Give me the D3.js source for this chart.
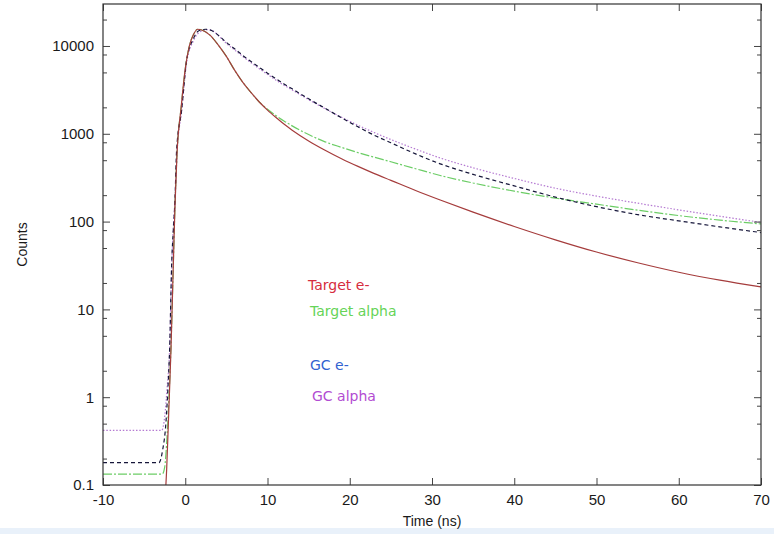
<!DOCTYPE html>
<html>
<head>
<meta charset="utf-8">
<script src="https://cdn.jsdelivr.net/npm/d3@7"></script>
<style>
  body { margin: 0; background: #ffffff; }
  .tick text { font-family: "Liberation Sans", Arial, sans-serif; font-size: 15px; fill: #1a1a1a; }
  .legend { font-family: "DejaVu Sans", sans-serif; font-size: 14px; }
</style>
</head>
<body>
<div id="chart"></div>
<script>
// values (time in ns, counts)
var timeRed = [-2.45, -2.26, -2.0, -1.74, -1.5, -1.25, -1.0, -0.5, 0, 0.5, 1.0, 1.5, 2, 3, 4, 5, 6, 7, 8, 9, 10, 11, 12, 13, 15, 17, 19, 21, 23, 25, 28, 31, 35, 40, 45, 50, 55, 60, 65, 70];
var countsRed = [0.07, 0.15, 0.7, 3.4, 22, 150, 600, 2000, 5500, 10000, 13500, 15500, 15200, 13300, 10300, 7600, 5300, 3850, 2950, 2300, 1860, 1540, 1290, 1100, 830, 650, 520, 425, 352, 295, 226, 176, 128, 88, 62, 45, 34, 26.5, 21.5, 18];

var timeGreen = [-10, -2.8, -2.5, -2.26, -2.0, -1.74, -1.5, -1.25, -1.0, -0.5, 0, 0.5, 1.0, 1.5, 2, 3, 4, 5, 6, 7, 8, 9, 10, 11, 12, 13, 15, 17, 19, 21, 23, 25, 28, 31, 35, 40, 45, 50, 55, 60, 65, 70];
var countsGreen = [0.133, 0.133, 0.16, 0.3, 0.9, 3.6, 22, 150, 600, 2000, 5500, 10000, 13500, 15500, 15200, 13300, 10300, 7600, 5300, 3850, 2950, 2300, 1900, 1620, 1400, 1230, 980, 810, 700, 610, 540, 480, 400, 335, 275, 222, 185, 158, 135, 117, 104, 94];

var timeBlack = [-10, -3.2, -2.75, -2.35, -2.1, -1.9, -1.65, -1.45, -1.25, -1.05, -0.44, 0.17, 0.97, 1.6, 2.5, 3.2, 4, 5, 6, 7, 8, 9, 10, 11, 12, 13, 15, 17, 19, 21, 23, 25, 28, 31, 35, 40, 45, 50, 55, 60, 65, 70];
var countsBlack = [0.18, 0.18, 0.25, 0.51, 1.3, 3.45, 33, 80, 176, 650, 1870, 6900, 12000, 14800, 15500, 15000, 13300, 11000, 9300, 7800, 6650, 5700, 4900, 4250, 3700, 3250, 2500, 1950, 1520, 1200, 960, 790, 590, 455, 345, 255, 190, 148, 120, 102, 87, 75];

var timePurple = [-10, -2.85, -2.5, -2.2, -1.9, -1.65, -1.45, -1.25, -1.0, -0.44, 0.17, 1.0, 2.0, 2.7, 3.4, 4, 5, 6, 7, 8, 9, 10, 11, 12, 13, 15, 17, 19, 21, 23, 25, 28, 31, 35, 40, 45, 50, 55, 60, 65, 70];
var countsPurple = [0.42, 0.42, 0.6, 1.3, 3.6, 30, 85, 170, 600, 1800, 6500, 11500, 14800, 15300, 14800, 13200, 10700, 9000, 7600, 6450, 5500, 4750, 4100, 3580, 3150, 2450, 1930, 1540, 1250, 1030, 860, 670, 530, 410, 310, 240, 195, 162, 136, 115, 98];

var xTicks = [-10, 0, 10, 20, 30, 40, 50, 60, 70];
var yTicks = [0.1, 1, 10, 100, 1000, 10000];
var yMinor = [0.2, 0.5, 0.8, 2, 5, 8, 20, 50, 80, 200, 500, 800, 2000, 5000, 8000, 20000];

var legendNames = ["Target e-", "Target alpha", "GC e-", "GC alpha"];

var width = 774,
    height = 534;
var plotLeft = 103, plotRight = 761, plotTop = 4, plotBottom = 485;

var svg = d3.select("#chart").append("svg")
  .attr("width", width)
  .attr("height", height)
  .style("display", "block");

var x = d3.scaleLinear().domain([-10, 70]).range([plotLeft, plotRight]);
var y = d3.scaleLog().domain([0.1, 30070]).range([plotBottom, plotTop]);

svg.append("defs").append("clipPath").attr("id", "plotclip")
  .append("rect")
  .attr("x", plotLeft).attr("y", plotTop)
  .attr("width", plotRight - plotLeft).attr("height", plotBottom - plotTop);

// light band at the bottom of the picture
svg.append("rect")
  .attr("x", 0).attr("y", 528)
  .attr("width", width).attr("height", 6)
  .style("fill", "#e9f1fa");

var line = d3.line()
  .x(function(d) { return x(d[0]); })
  .y(function(d) { return y(d[1]); })
  .curve(d3.curveMonotoneX);

var series = [
  { t: timePurple, c: countsPurple, color: "#b57ad2", dash: "1.5,1.8" },
  { t: timeGreen, c: countsGreen, color: "#6ccd66", dash: "9,2,2,2" },
  { t: timeBlack, c: countsBlack, color: "#16163a", dash: "4,3" },
  { t: timeRed, c: countsRed, color: "#a53c3c", dash: null }
];

var g = svg.append("g").attr("clip-path", "url(#plotclip)");
series.forEach(function(s) {
  var pts = s.t.map(function(t, i) { return [t, s.c[i]]; });
  g.append("path")
    .attr("d", line(pts))
    .style("fill", "none")
    .style("stroke", s.color)
    .style("stroke-width", 1.2)
    .style("stroke-dasharray", s.dash);
});

// axes, ticks pointing inward
function styleAxis(a) {
  a.select(".domain").remove();
  a.selectAll(".tick line").style("stroke", "#444");
}

svg.append("g").attr("transform", "translate(0," + plotBottom + ")")
  .call(d3.axisBottom(x).tickValues(xTicks).tickSize(-7).tickPadding(9).tickFormat(function(d) { return String(d); }))
  .call(styleAxis);
svg.append("g").attr("transform", "translate(0," + plotTop + ")")
  .call(d3.axisTop(x).tickValues(xTicks).tickSize(-7).tickFormat(""))
  .call(styleAxis);

svg.append("g").attr("transform", "translate(" + plotLeft + ",0)")
  .call(d3.axisLeft(y).tickValues(yTicks).tickSize(-7).tickPadding(9).tickFormat(function(d) { return d < 1 ? "0.1" : String(Math.round(d)); }))
  .call(styleAxis);
svg.append("g").attr("transform", "translate(" + plotLeft + ",0)")
  .call(d3.axisLeft(y).tickValues(yMinor).tickSize(-4).tickFormat(""))
  .call(styleAxis);
svg.append("g").attr("transform", "translate(" + plotRight + ",0)")
  .call(d3.axisRight(y).tickValues(yTicks).tickSize(-7).tickFormat(""))
  .call(styleAxis);
svg.append("g").attr("transform", "translate(" + plotRight + ",0)")
  .call(d3.axisRight(y).tickValues(yMinor).tickSize(-4).tickFormat(""))
  .call(styleAxis);

svg.append("rect")
  .attr("x", plotLeft).attr("y", plotTop)
  .attr("width", plotRight - plotLeft).attr("height", plotBottom - plotTop)
  .style("fill", "none")
  .style("stroke", "#333")
  .style("stroke-width", 1.2);

svg.append("text")
  .attr("x", (plotLeft + plotRight) / 2)
  .attr("y", 526)
  .attr("text-anchor", "middle")
  .style("font-family", "Liberation Sans, Arial, sans-serif")
  .style("font-size", "14px")
  .style("fill", "#1a1a1a")
  .text("Time (ns)");

svg.append("text")
  .attr("transform", "translate(27," + (plotTop + plotBottom) / 2 + ") rotate(-90)")
  .attr("text-anchor", "middle")
  .style("font-family", "Liberation Sans, Arial, sans-serif")
  .style("font-size", "14px")
  .style("fill", "#1a1a1a")
  .text("Counts");

// legend labels, written straight on the plot
var legendColors = ["#d62c3e", "#66d458", "#3262d0", "#b24cd2"];
var legendX = [308, 310, 310, 312];
var legendY = [290, 316, 370, 401];
svg.selectAll("text.legend")
  .data(legendNames)
  .enter().append("text")
  .attr("class", "legend")
  .attr("x", function(d, i) { return legendX[i]; })
  .attr("y", function(d, i) { return legendY[i]; })
  .style("fill", function(d, i) { return legendColors[i]; })
  .text(function(d) { return d; });
</script>
</body>
</html>
